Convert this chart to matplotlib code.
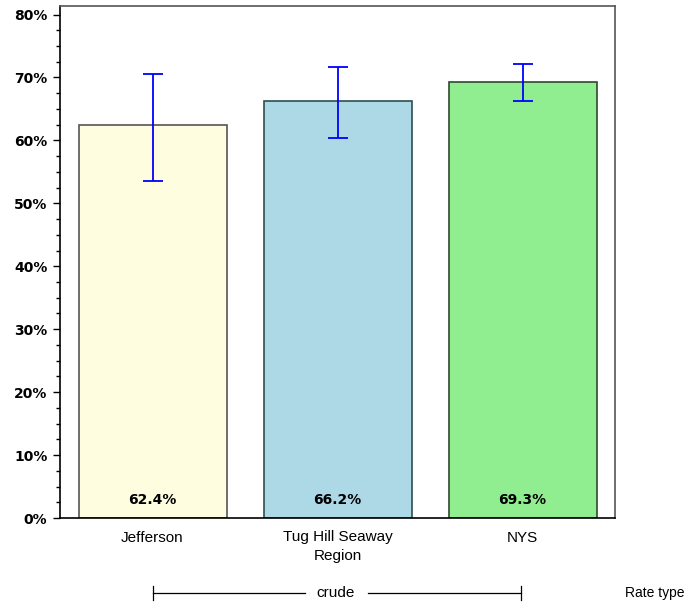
import matplotlib.pyplot as plt
import numpy as np
from matplotlib.ticker import MultipleLocator, FuncFormatter

# data
regions = ["Jefferson", "Tug Hill Seaway\nRegion", "NYS"]
rates = [62.4, 66.2, 69.3]
ci_low = [53.6, 60.3, 66.3]
ci_high = [70.5, 71.7, 72.2]
bar_colors = ["#FFFDE0", "#ADD8E6", "#90EE90"]
edge_colors = ["#555555", "#2F4F4F", "#2E4A2E"]
rate_type = "crude"

fig = plt.figure(figsize=(6.94, 6.05), dpi=100)
ax = fig.add_axes([60/694, 87/605, 555/694, 512.3/605])

x = np.arange(len(regions))
ax.bar(x, rates, width=0.8, color=bar_colors, edgecolor=edge_colors, linewidth=1.2, zorder=2)
err = [np.array(rates) - np.array(ci_low), np.array(ci_high) - np.array(rates)]
ax.errorbar(x, rates, yerr=err, fmt="none", ecolor="blue", elinewidth=1.3,
            capsize=7, capthick=1.3, zorder=3)

for xi, r in zip(x, rates):
    ax.text(xi, 2.9, "{:.1f}%".format(r), ha="center", va="center",
            fontsize=10, fontweight="bold", family="DejaVu Sans", zorder=4)

ax.set_xlim(-0.5, 2.5)
ax.set_ylim(0, 81.4)
ax.yaxis.set_major_locator(MultipleLocator(10))
ax.yaxis.set_minor_locator(MultipleLocator(2.5))
ax.yaxis.set_major_formatter(FuncFormatter(lambda v, p: "{:.0f}%".format(v) if v <= 80 else ""))
ax.tick_params(axis="y", which="major", length=5, width=1, labelsize=10, pad=4)
ax.tick_params(axis="y", which="minor", length=3, width=1)
for lab in ax.get_yticklabels():
    lab.set_fontweight("bold")

ax.set_xticks(x)
ax.set_xticklabels(regions, fontsize=11, family="Liberation Sans", linespacing=1.4)
ax.tick_params(axis="x", length=0, pad=9)

ax.spines["left"].set_color("black")
ax.spines["bottom"].set_color("black")
ax.spines["right"].set_color("#555555")
ax.spines["top"].set_color("#555555")
for s in ax.spines.values():
    s.set_linewidth(1.2)

# rate type bracket below the axes
yb = 1 - 593/605
tick_h = 7/605
x0, x1 = 152.5/694, 521/694
fig.add_artist(plt.Line2D([x0, 305/694], [yb, yb], color="black", lw=0.9))
fig.add_artist(plt.Line2D([368/694, x1], [yb, yb], color="black", lw=0.9))
fig.add_artist(plt.Line2D([x0, x0], [yb - tick_h, yb + tick_h], color="black", lw=0.9))
fig.add_artist(plt.Line2D([x1, x1], [yb - tick_h, yb + tick_h], color="black", lw=0.9))
fig.text(336/694, yb, rate_type, ha="center", va="center", fontsize=11, family="Liberation Sans")
fig.text(625/694, yb, "Rate type", ha="left", va="center", fontsize=10, family="Liberation Sans")

fig.savefig("out.png", dpi=100)
